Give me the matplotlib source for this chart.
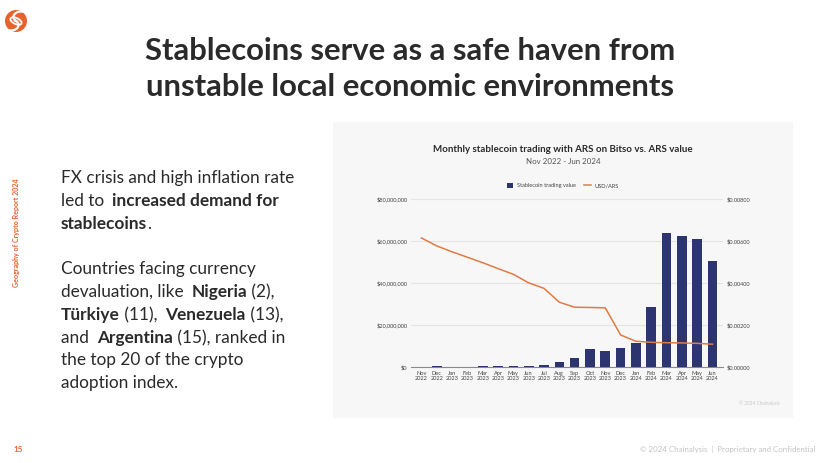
import matplotlib
matplotlib.use('Agg')
import matplotlib.pyplot as plt
from matplotlib.patches import Rectangle, Circle, Arc
from matplotlib.lines import Line2D

W, H = 828, 463

months = ['Nov\n2022', 'Dec\n2022', 'Jan\n2023', 'Feb\n2023', 'Mar\n2023', 'Apr\n2023', 'May\n2023',
          'Jun\n2023', 'Jul\n2023', 'Aug\n2023', 'Sep\n2023', 'Oct\n2023', 'Nov\n2023', 'Dec\n2023',
          'Jan\n2024', 'Feb\n2024', 'Mar\n2024', 'Apr\n2024', 'May\n2024', 'Jun\n2024']
trading_value = [200000, 450000, 200000, 200000, 600000, 600000, 550000, 600000, 900000, 2400000,
                 4300000, 8600000, 7600000, 9000000, 11600000, 28600000, 63800000, 62400000, 61100000, 50800000]
usd_ars = [0.00616, 0.00578, 0.00555, 0.00532, 0.00508, 0.00483, 0.00458, 0.00433, 0.00403, 0.00376,
           0.00310, 0.00286, 0.00285, 0.00283, 0.00154, 0.00124, 0.00119, 0.00117, 0.00116, 0.00110]
usd_ars = usd_ars[:9] + usd_ars[9:]
usd_ars = [0.00616, 0.00578, 0.00550, 0.00524, 0.00498, 0.00470, 0.00443, 0.00402, 0.00376,
           0.00310, 0.00286, 0.00285, 0.00283, 0.00154, 0.00124, 0.00119, 0.00117, 0.00116, 0.00114, 0.00110]
left_ticks = [0, 20000000, 40000000, 60000000, 80000000]
left_labels = ['$0', '$20,000,000', '$40,000,000', '$60,000,000', '$80,000,000']
right_ticks = [0, 0.002, 0.004, 0.006, 0.008]
right_labels = ['$0.00000', '$0.00200', '$0.00400', '$0.00600', '$0.00800']

ORANGE = '#e8622c'
NAVY = '#2d3570'
LINE = '#e07b45'
DARK = '#2a2a2a'
FONT = 'Lato'

plt.rcParams['font.family'] = FONT

fig = plt.figure(figsize=(W / 100, H / 100), dpi=100, facecolor='white')

# page layer in pixel coordinates
page = fig.add_axes([0, 0, 1, 1])
page.set_xlim(0, W)
page.set_ylim(H, 0)
page.axis('off')

page.add_patch(Rectangle((333, 122), 460, 296, facecolor='#f7f7f7', edgecolor='none'))

# logo
page.add_patch(Circle((16, 21), 11, facecolor=ORANGE, edgecolor='none'))
page.add_patch(Arc((21, 17), 15, 11, angle=0, theta1=120, theta2=300, color='white', lw=1.6))
page.add_patch(Arc((11, 25), 15, 11, angle=0, theta1=-60, theta2=120, color='white', lw=1.6))
page.add_patch(Arc((16, 21), 12, 6, angle=25, theta1=0, theta2=360, color='white', lw=1.3))

# headline
page.text(410, 51, 'Stablecoins serve as a safe haven from', ha='center', va='center',
          fontsize=22.3, fontweight='bold', color=DARK)
page.text(410, 87, 'unstable local economic environments', ha='center', va='center',
          fontsize=22.3, fontweight='bold', color=DARK)


def draw_runs(x, y, runs, size=12.4):
    # normal and bold pieces on one line
    renderer = fig.canvas.get_renderer()
    for text, weight in runs:
        t = page.text(x, y, text, fontsize=size, fontweight=weight, color=DARK, ha='left', va='center')
        x = t.get_window_extent(renderer).x1 + (3.6 if text.endswith(' ') else 0)


body = [
    (178, [('FX crisis and high inflation rate', 'normal')]),
    (201, [('led to ', 'normal'), ('increased demand for', 'bold')]),
    (224, [('stablecoins', 'bold'), ('.', 'normal')]),
    (269, [('Countries facing currency', 'normal')]),
    (292, [('devaluation, like ', 'normal'), ('Nigeria', 'bold'), (' (2),', 'normal')]),
    (315, [('Türkiye', 'bold'), (' (11), ', 'normal'), ('Venezuela', 'bold'), (' (13),', 'normal')]),
    (338, [('and ', 'normal'), ('Argentina', 'bold'), (' (15), ranked in', 'normal')]),
    (360, [('the top 20 of the crypto', 'normal')]),
    (383, [('adoption index.', 'normal')]),
]
for y, runs in body:
    draw_runs(61, y, runs)

page.text(17, 233, 'Geography of Crypto Report 2024', rotation=90, ha='center', va='center',
          fontsize=5.1, fontweight='bold', color=ORANGE)
page.text(13, 449, '15', ha='left', va='center', fontsize=5.8, fontweight='bold', color=ORANGE)
page.text(815, 449, '© 2024 Chainalysis  |  Proprietary and Confidential', ha='right', va='center',
          fontsize=5.7, color='#c4c4c4')

# chart titles
page.text(563, 149, 'Monthly stablecoin trading with ARS on Bitso vs. ARS value', ha='center', va='center',
          fontsize=7, fontweight='bold', color=DARK)
page.text(563, 161, 'Nov 2022 - Jun 2024', ha='center', va='center', fontsize=5.7, color='#555555')
page.text(780, 403, '© 2024 Chainalysis', ha='right', va='center', fontsize=3.4, color='#c8c8c8')

# chart
x0, x1, y_top, y_bot = 410.7, 723.3, 199.3, 367.3
ax = fig.add_axes([x0 / W, 1 - y_bot / H, (x1 - x0) / W, (y_bot - y_top) / H], facecolor='none')
positions = list(range(len(months)))
ax.bar(positions, trading_value, width=0.63, color=NAVY, zorder=3)
ax.set_xlim(-0.7, 19.7)
ax.set_ylim(0, 80000000)
ax.set_xticks(positions)
ax.set_xticklabels(months, fontsize=4.1, color='#444444', linespacing=1.15)
ax.set_yticks(left_ticks)
ax.set_yticklabels(left_labels, fontsize=4.1, color='#444444')
ax.tick_params(axis='both', length=0, pad=2.5)
ax.grid(axis='y', color='#e4e4e4', lw=0.8, zorder=0)
for name in ['top', 'left', 'right']:
    ax.spines[name].set_visible(False)
ax.spines['bottom'].set_color('#8a8a8a')
ax.spines['bottom'].set_linewidth(0.8)

ax2 = ax.twinx()
ax2.plot(positions, usd_ars, color=LINE, lw=1.1, zorder=4)
ax2.set_ylim(0, 0.008)
ax2.set_yticks(right_ticks)
ax2.set_yticklabels(right_labels, fontsize=4.1, color='#444444')
ax2.tick_params(axis='y', length=0, pad=2.5)
for name in ['top', 'left', 'right', 'bottom']:
    ax2.spines[name].set_visible(False)

# legend
handles = [Rectangle((0, 0), 1, 1, facecolor=NAVY, edgecolor='none'),
           Line2D([0], [0], color=LINE, lw=1.1)]
fig.legend(handles, ['Stablecoin trading value', 'USD/ARS'], ncol=2, frameon=False, fontsize=4.1,
           loc='center', bbox_to_anchor=(563 / W, 1 - 185.7 / H), handlelength=1.1, handleheight=0.9,
           columnspacing=1.4, handletextpad=0.7, labelcolor='#444444')

fig.savefig('out.png', dpi=100, facecolor='white')
